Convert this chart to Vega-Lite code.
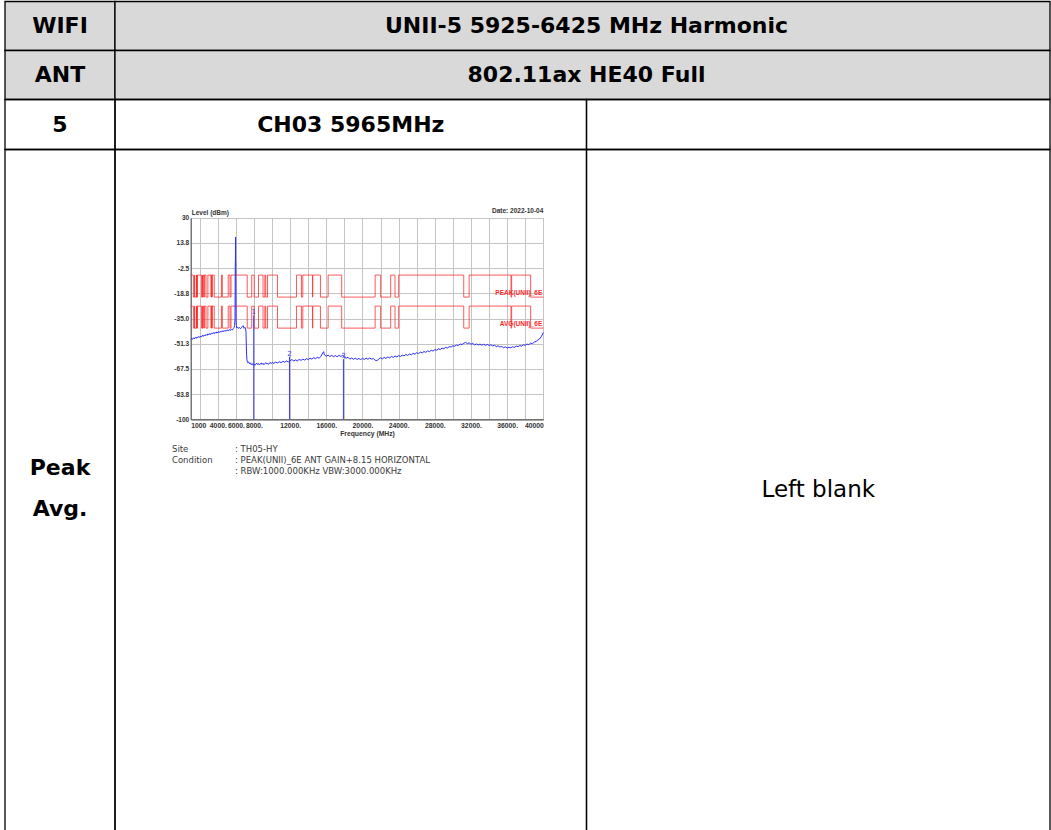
{
  "$schema": "https://vega.github.io/schema/vega-lite/v6.json",
  "width": 1051,
  "height": 830,
  "autosize": "none",
  "padding": 0,
  "background": "white",
  "config": {"view": {"stroke": null}},
  "datasets": {
    "cells": [
      {"c0": 0, "c1": 1, "r0": 0, "r1": 1, "kind": "header"},
      {"c0": 1, "c1": 3, "r0": 0, "r1": 1, "kind": "header"},
      {"c0": 0, "c1": 1, "r0": 1, "r1": 2, "kind": "header"},
      {"c0": 1, "c1": 3, "r0": 1, "r1": 2, "kind": "header"},
      {"c0": 0, "c1": 1, "r0": 2, "r1": 3, "kind": "body"},
      {"c0": 1, "c1": 2, "r0": 2, "r1": 3, "kind": "body"},
      {"c0": 2, "c1": 3, "r0": 2, "r1": 3, "kind": "body"},
      {"c0": 0, "c1": 1, "r0": 3, "r1": 4, "kind": "body"},
      {"c0": 1, "c1": 2, "r0": 3, "r1": 4, "kind": "body"},
      {"c0": 2, "c1": 3, "r0": 3, "r1": 4, "kind": "body"}
    ],
    "cellText": [
      {"col": 0.5, "row": 0.5, "text": "WIFI"},
      {"col": 2, "row": 0.5, "text": "UNII-5 5925-6425 MHz Harmonic"},
      {"col": 0.5, "row": 1.5, "text": "ANT"},
      {"col": 2, "row": 1.5, "text": "802.11ax HE40 Full"},
      {"col": 0.5, "row": 2.5, "text": "5"},
      {"col": 1.5, "row": 2.5, "text": "CH03 5965MHz"},
      {"col": 0.5, "row": 3.468, "text": "Peak"},
      {"col": 0.5, "row": 3.527, "text": "Avg."}
    ],
    "cellNote": [
      {"col": 2.5, "row": 3.5, "text": "Left blank"}
    ],
    "limits": [
      {"freq": 1000, "peak": -7, "avg": -27},
      {"freq": 1300, "peak": -21.2, "avg": -41.2},
      {"freq": 1427, "peak": -7, "avg": -27},
      {"freq": 1435, "peak": -21.2, "avg": -41.2},
      {"freq": 1626.5, "peak": -7, "avg": -27},
      {"freq": 1645.5, "peak": -21.2, "avg": -41.2},
      {"freq": 1646.5, "peak": -7, "avg": -27},
      {"freq": 1660, "peak": -21.2, "avg": -41.2},
      {"freq": 1710, "peak": -7, "avg": -27},
      {"freq": 1718.8, "peak": -21.2, "avg": -41.2},
      {"freq": 1722.2, "peak": -7, "avg": -27},
      {"freq": 2200, "peak": -21.2, "avg": -41.2},
      {"freq": 2300, "peak": -7, "avg": -27},
      {"freq": 2310, "peak": -21.2, "avg": -41.2},
      {"freq": 2390, "peak": -7, "avg": -27},
      {"freq": 2483.5, "peak": -21.2, "avg": -41.2},
      {"freq": 2500, "peak": -7, "avg": -27},
      {"freq": 2690, "peak": -21.2, "avg": -41.2},
      {"freq": 2900, "peak": -7, "avg": -27},
      {"freq": 3260, "peak": -21.2, "avg": -41.2},
      {"freq": 3267, "peak": -7, "avg": -27},
      {"freq": 3332, "peak": -21.2, "avg": -41.2},
      {"freq": 3339, "peak": -7, "avg": -27},
      {"freq": 3345.8, "peak": -21.2, "avg": -41.2},
      {"freq": 3358, "peak": -7, "avg": -27},
      {"freq": 3600, "peak": -21.2, "avg": -41.2},
      {"freq": 4400, "peak": -7, "avg": -27},
      {"freq": 4500, "peak": -21.2, "avg": -41.2},
      {"freq": 5150, "peak": -7, "avg": -27},
      {"freq": 5350, "peak": -21.2, "avg": -41.2},
      {"freq": 5460, "peak": -7, "avg": -27},
      {"freq": 7250, "peak": -21.2, "avg": -41.2},
      {"freq": 7750, "peak": -7, "avg": -27},
      {"freq": 8025, "peak": -21.2, "avg": -41.2},
      {"freq": 8500, "peak": -7, "avg": -27},
      {"freq": 9000, "peak": -21.2, "avg": -41.2},
      {"freq": 9200, "peak": -7, "avg": -27},
      {"freq": 9300, "peak": -21.2, "avg": -41.2},
      {"freq": 9500, "peak": -7, "avg": -27},
      {"freq": 10600, "peak": -21.2, "avg": -41.2},
      {"freq": 12700, "peak": -7, "avg": -27},
      {"freq": 13250, "peak": -21.2, "avg": -41.2},
      {"freq": 13400, "peak": -7, "avg": -27},
      {"freq": 14470, "peak": -21.2, "avg": -41.2},
      {"freq": 14500, "peak": -7, "avg": -27},
      {"freq": 15350, "peak": -21.2, "avg": -41.2},
      {"freq": 16200, "peak": -7, "avg": -27},
      {"freq": 17700, "peak": -21.2, "avg": -41.2},
      {"freq": 21400, "peak": -7, "avg": -27},
      {"freq": 22010, "peak": -21.2, "avg": -41.2},
      {"freq": 23120, "peak": -7, "avg": -27},
      {"freq": 23600, "peak": -21.2, "avg": -41.2},
      {"freq": 24000, "peak": -7, "avg": -27},
      {"freq": 31200, "peak": -21.2, "avg": -41.2},
      {"freq": 31800, "peak": -7, "avg": -27},
      {"freq": 36430, "peak": -21.2, "avg": -41.2},
      {"freq": 36500, "peak": -7, "avg": -27},
      {"freq": 38600, "peak": -21.2, "avg": -41.2},
      {"freq": 40000, "peak": -21.2, "avg": -41.2}
    ],
    "trace": [
      {"freq": 1000, "level": -48.6}, {"freq": 1100, "level": -47.9}, {"freq": 1200, "level": -48.4},
      {"freq": 1300, "level": -47.5}, {"freq": 1400, "level": -48.1}, {"freq": 1500, "level": -47.2},
      {"freq": 1600, "level": -47.8}, {"freq": 1700, "level": -46.9}, {"freq": 1800, "level": -47.4},
      {"freq": 1900, "level": -46.6}, {"freq": 2000, "level": -47.2}, {"freq": 2100, "level": -46.3},
      {"freq": 2200, "level": -46.9}, {"freq": 2300, "level": -45.8}, {"freq": 2400, "level": -46.5},
      {"freq": 2500, "level": -45.6}, {"freq": 2600, "level": -46.2}, {"freq": 2700, "level": -45.3},
      {"freq": 2800, "level": -45.9}, {"freq": 2900, "level": -44.9}, {"freq": 3000, "level": -45.6},
      {"freq": 3100, "level": -44.7}, {"freq": 3200, "level": -45.3}, {"freq": 3300, "level": -44.4},
      {"freq": 3400, "level": -45.0}, {"freq": 3500, "level": -44.1}, {"freq": 3600, "level": -44.8},
      {"freq": 3700, "level": -43.9}, {"freq": 3800, "level": -44.5}, {"freq": 3900, "level": -43.6},
      {"freq": 4000, "level": -44.3}, {"freq": 4100, "level": -43.4}, {"freq": 4200, "level": -44.0},
      {"freq": 4300, "level": -43.2}, {"freq": 4400, "level": -43.8}, {"freq": 4500, "level": -42.9},
      {"freq": 4600, "level": -43.5}, {"freq": 4700, "level": -42.7}, {"freq": 4800, "level": -43.3},
      {"freq": 4900, "level": -42.5}, {"freq": 5000, "level": -43.1}, {"freq": 5100, "level": -42.3},
      {"freq": 5200, "level": -42.9}, {"freq": 5300, "level": -42.1}, {"freq": 5400, "level": -42.7},
      {"freq": 5500, "level": -41.9}, {"freq": 5600, "level": -42.4}, {"freq": 5700, "level": -41.6},
      {"freq": 5800, "level": -40.8}, {"freq": 5850, "level": -39.5}, {"freq": 5900, "level": -36},
      {"freq": 5925, "level": -8}, {"freq": 5935, "level": 0.5}, {"freq": 5950, "level": 2},
      {"freq": 5965, "level": 17.5}, {"freq": 5975, "level": 3}, {"freq": 5990, "level": 1},
      {"freq": 6005, "level": -20}, {"freq": 6020, "level": -36}, {"freq": 6050, "level": -39.5},
      {"freq": 6100, "level": -41.2}, {"freq": 6200, "level": -40.6}, {"freq": 6300, "level": -41.4},
      {"freq": 6400, "level": -40.8}, {"freq": 6500, "level": -41.6}, {"freq": 6600, "level": -41.0},
      {"freq": 6700, "level": -40.2}, {"freq": 6800, "level": -39.6}, {"freq": 6900, "level": -41.3},
      {"freq": 7000, "level": -40.7}, {"freq": 7080, "level": -41.8}, {"freq": 7120, "level": -44},
      {"freq": 7150, "level": -52}, {"freq": 7180, "level": -58}, {"freq": 7220, "level": -61.5},
      {"freq": 7260, "level": -62.8}, {"freq": 7300, "level": -63.5}, {"freq": 7400, "level": -62.9},
      {"freq": 7500, "level": -64.2}, {"freq": 7600, "level": -63.6}, {"freq": 7700, "level": -64.8},
      {"freq": 7800, "level": -64.1}, {"freq": 7900, "level": -65.0}, {"freq": 8000, "level": -64.3},
      {"freq": 8100, "level": -65.2}, {"freq": 8200, "level": -64.5}, {"freq": 8300, "level": -63.8},
      {"freq": 8400, "level": -64.7}, {"freq": 8500, "level": -64.0}, {"freq": 8600, "level": -64.9},
      {"freq": 8700, "level": -64.2}, {"freq": 8800, "level": -63.7}, {"freq": 8900, "level": -64.6},
      {"freq": 9000, "level": -63.9}, {"freq": 9100, "level": -64.8}, {"freq": 9200, "level": -64.1},
      {"freq": 9300, "level": -63.5}, {"freq": 9400, "level": -64.4}, {"freq": 9500, "level": -63.8},
      {"freq": 9600, "level": -64.6}, {"freq": 9700, "level": -63.9}, {"freq": 9800, "level": -63.2},
      {"freq": 9900, "level": -64.1}, {"freq": 10000, "level": -63.4}, {"freq": 10200, "level": -63.9},
      {"freq": 10400, "level": -63.1}, {"freq": 10600, "level": -63.7}, {"freq": 10800, "level": -62.9},
      {"freq": 11000, "level": -63.5}, {"freq": 11200, "level": -62.6}, {"freq": 11400, "level": -63.2},
      {"freq": 11600, "level": -62.4}, {"freq": 11800, "level": -63.0}, {"freq": 12000, "level": -62.2},
      {"freq": 12200, "level": -61.5}, {"freq": 12400, "level": -62.4}, {"freq": 12600, "level": -61.7},
      {"freq": 12800, "level": -62.3}, {"freq": 13000, "level": -61.4}, {"freq": 13200, "level": -62.0},
      {"freq": 13400, "level": -61.2}, {"freq": 13600, "level": -61.8}, {"freq": 13800, "level": -60.9},
      {"freq": 14000, "level": -61.5}, {"freq": 14200, "level": -60.6}, {"freq": 14400, "level": -61.2},
      {"freq": 14600, "level": -60.3}, {"freq": 14800, "level": -60.9}, {"freq": 15000, "level": -60.0},
      {"freq": 15200, "level": -60.6}, {"freq": 15400, "level": -59.5}, {"freq": 15600, "level": -57.2},
      {"freq": 15700, "level": -56.4}, {"freq": 15800, "level": -58.5}, {"freq": 16000, "level": -59.3},
      {"freq": 16200, "level": -58.6}, {"freq": 16400, "level": -59.5}, {"freq": 16600, "level": -58.8},
      {"freq": 16800, "level": -59.6}, {"freq": 17000, "level": -58.9}, {"freq": 17200, "level": -59.7},
      {"freq": 17400, "level": -58.7}, {"freq": 17600, "level": -59.5}, {"freq": 17800, "level": -58.8},
      {"freq": 18000, "level": -59.9}, {"freq": 18200, "level": -60.6}, {"freq": 18400, "level": -60.0},
      {"freq": 18600, "level": -61.2}, {"freq": 18800, "level": -60.5}, {"freq": 19000, "level": -61.3},
      {"freq": 19200, "level": -60.6}, {"freq": 19400, "level": -61.4}, {"freq": 19600, "level": -60.8},
      {"freq": 19800, "level": -61.5}, {"freq": 20000, "level": -60.7}, {"freq": 20200, "level": -61.4},
      {"freq": 20400, "level": -60.6}, {"freq": 20600, "level": -61.3}, {"freq": 20800, "level": -60.5},
      {"freq": 21000, "level": -61.2}, {"freq": 21200, "level": -60.8}, {"freq": 21400, "level": -61.9},
      {"freq": 21600, "level": -62.3}, {"freq": 21800, "level": -61.1}, {"freq": 22000, "level": -60.4},
      {"freq": 22200, "level": -61.0}, {"freq": 22400, "level": -60.1}, {"freq": 22600, "level": -60.7},
      {"freq": 22800, "level": -59.8}, {"freq": 23000, "level": -60.4}, {"freq": 23200, "level": -59.5},
      {"freq": 23400, "level": -60.1}, {"freq": 23600, "level": -59.2}, {"freq": 23800, "level": -59.8},
      {"freq": 24000, "level": -58.9}, {"freq": 24200, "level": -59.5}, {"freq": 24400, "level": -58.6},
      {"freq": 24600, "level": -59.1}, {"freq": 24800, "level": -58.2}, {"freq": 25000, "level": -58.8},
      {"freq": 25200, "level": -57.9}, {"freq": 25400, "level": -58.4}, {"freq": 25600, "level": -57.5},
      {"freq": 25800, "level": -58.0}, {"freq": 26000, "level": -57.1}, {"freq": 26200, "level": -57.6},
      {"freq": 26400, "level": -56.7}, {"freq": 26600, "level": -57.2}, {"freq": 26800, "level": -56.3},
      {"freq": 27000, "level": -56.8}, {"freq": 27200, "level": -55.9}, {"freq": 27400, "level": -56.4},
      {"freq": 27600, "level": -55.5}, {"freq": 27800, "level": -56.0}, {"freq": 28000, "level": -55.1},
      {"freq": 28200, "level": -55.5}, {"freq": 28400, "level": -54.6}, {"freq": 28600, "level": -55.0},
      {"freq": 28800, "level": -54.1}, {"freq": 29000, "level": -54.5}, {"freq": 29200, "level": -53.6},
      {"freq": 29400, "level": -54.0}, {"freq": 29600, "level": -53.1}, {"freq": 29800, "level": -53.4},
      {"freq": 30000, "level": -52.6}, {"freq": 30200, "level": -52.9}, {"freq": 30400, "level": -52.1},
      {"freq": 30600, "level": -52.4}, {"freq": 30800, "level": -51.5}, {"freq": 31000, "level": -51.8},
      {"freq": 31200, "level": -51.0}, {"freq": 31400, "level": -50.4}, {"freq": 31600, "level": -51.2},
      {"freq": 31800, "level": -50.7}, {"freq": 32000, "level": -51.6}, {"freq": 32200, "level": -51.1},
      {"freq": 32400, "level": -52.0}, {"freq": 32600, "level": -51.4}, {"freq": 32800, "level": -52.1},
      {"freq": 33000, "level": -51.5}, {"freq": 33200, "level": -52.2}, {"freq": 33400, "level": -51.6},
      {"freq": 33600, "level": -52.3}, {"freq": 33800, "level": -51.7}, {"freq": 34000, "level": -52.4},
      {"freq": 34200, "level": -51.9}, {"freq": 34400, "level": -52.7}, {"freq": 34600, "level": -52.3},
      {"freq": 34800, "level": -53.1}, {"freq": 35000, "level": -52.6}, {"freq": 35200, "level": -53.4},
      {"freq": 35400, "level": -53.0}, {"freq": 35600, "level": -53.8}, {"freq": 35800, "level": -53.3},
      {"freq": 36000, "level": -54.0}, {"freq": 36200, "level": -53.5}, {"freq": 36400, "level": -53.9},
      {"freq": 36600, "level": -53.2}, {"freq": 36800, "level": -53.6}, {"freq": 37000, "level": -52.8},
      {"freq": 37200, "level": -53.2}, {"freq": 37400, "level": -52.4}, {"freq": 37600, "level": -52.8},
      {"freq": 37800, "level": -51.9}, {"freq": 38000, "level": -52.3}, {"freq": 38200, "level": -51.5},
      {"freq": 38400, "level": -51.8}, {"freq": 38600, "level": -50.9}, {"freq": 38800, "level": -51.2},
      {"freq": 39000, "level": -50.2}, {"freq": 39200, "level": -49.8}, {"freq": 39400, "level": -48.9},
      {"freq": 39600, "level": -48.1}, {"freq": 39800, "level": -46.5}, {"freq": 40000, "level": -44.0}
    ],
    "markers": [
      {"freq": 7970, "level": -33, "label": "1"},
      {"freq": 11930, "level": -59.6, "label": "2"},
      {"freq": 17895, "level": -61.2, "label": "3"}
    ]
  },
  "layer": [
    {
      "layer": [
        {
          "data": {"name": "cells"},
          "mark": {"type": "rect", "stroke": "#000000", "strokeWidth": 1.3},
          "encoding": {
            "x": {"field": "c0", "type": "quantitative", "scale": {"domain": [0, 1, 2, 3], "range": [5, 115, 586.5, 1050], "nice": false, "zero": false}, "axis": null},
            "x2": {"field": "c1"},
            "y": {"field": "r0", "type": "quantitative", "scale": {"domain": [0, 1, 2, 3, 4], "range": [1.5, 50.5, 99.5, 149.5, 831], "nice": false, "zero": false}, "axis": null},
            "y2": {"field": "r1"},
            "fill": {"field": "kind", "type": "nominal", "scale": {"domain": ["header", "body"], "range": ["#d9d9d9", "rgba(255,255,255,0)"]}, "legend": null}
          }
        },
        {
          "data": {"name": "cellText"},
          "mark": {"type": "text", "font": "DejaVu Sans", "fontWeight": "bold", "fontSize": 22, "baseline": "middle", "align": "center", "color": "#000000"},
          "encoding": {
            "x": {"field": "col", "type": "quantitative"},
            "y": {"field": "row", "type": "quantitative"},
            "text": {"field": "text"}
          }
        },
        {
          "data": {"name": "cellNote"},
          "mark": {"type": "text", "font": "DejaVu Sans", "fontSize": 23, "baseline": "middle", "align": "center", "color": "#000000"},
          "encoding": {
            "x": {"field": "col", "type": "quantitative"},
            "y": {"field": "row", "type": "quantitative"},
            "text": {"field": "text"}
          }
        }
      ]
    },
    {
      "resolve": {"axis": {"x": "independent"}},
      "layer": [
        {
          "data": {"name": "limits"},
          "transform": [{"fold": ["peak", "avg"], "as": ["limit", "level"]}],
          "mark": {"type": "line", "interpolate": "step-after", "color": "#ff3030", "strokeWidth": 1, "opacity": 0.8},
          "encoding": {
            "x": {
              "field": "freq", "type": "quantitative",
              "scale": {"domain": [1000, 40000], "range": [190.7, 543.3], "nice": false, "zero": false},
              "axis": {
                "orient": "bottom", "offset": -410.7,
                "values": [1000, 4000, 6000, 8000, 12000, 16000, 20000, 24000, 28000, 32000, 36000, 40000],
                "format": "d",
                "labelExpr": "datum.value==1000||datum.value==40000?format(datum.value,'d'):format(datum.value,'d')+'.'",
                "ticks": false, "labelPadding": 3, "labelFlush": true, "labelOverlap": false,
                "labelFont": "Liberation Sans", "labelFontWeight": "bold", "labelFontSize": 6.8, "labelColor": "#333333",
                "grid": false,
                "domainColor": "#555555", "domainWidth": 1.2,
                "title": "Frequency (MHz)", "titleFont": "Liberation Sans", "titleFontWeight": "bold", "titleFontSize": 6.8, "titleColor": "#333333", "titlePadding": 1
              }
            },
            "y": {
              "field": "level", "type": "quantitative",
              "scale": {"domain": [-100, 30], "range": [419.3, 217.7], "nice": false, "zero": false},
              "axis": {
                "orient": "left", "offset": -190.7,
                "values": [-100, -83.75, -67.5, -51.25, -35, -18.75, -2.5, 13.75, 30],
                "labelExpr": "datum.value==30?'30':datum.value==-100?'-100':(datum.value<0?'-':'')+format(abs(datum.value),'.1f')",
                "ticks": false, "labelPadding": 2, "labelOverlap": false,
                "labelFont": "Liberation Sans", "labelFontWeight": "bold", "labelFontSize": 6.5, "labelColor": "#333333",
                "grid": true, "gridColor": "#c4c4c4", "gridWidth": 1,
                "domainColor": "#555555", "domainWidth": 1.2,
                "title": null
              }
            },
            "detail": {"field": "limit"}
          }
        },
        {
          "data": {"name": "trace"},
          "mark": {"type": "line", "stroke": "#2b2bff", "strokeWidth": 1},
          "encoding": {
            "x": {
              "field": "freq", "type": "quantitative",
              "axis": {
                "orient": "top", "offset": -217.7,
                "values": [2000, 4000, 6000, 8000, 10000, 12000, 14000, 16000, 18000, 20000, 22000, 24000, 26000, 28000, 30000, 32000, 34000, 36000, 38000, 40000],
                "labels": false, "ticks": false, "domain": false, "title": null,
                "grid": true, "gridColor": "#c4c4c4", "gridWidth": 1
              }
            },
            "y": {"field": "level", "type": "quantitative"}
          }
        },
        {
          "data": {"name": "markers"},
          "mark": {"type": "rule", "stroke": "#3a3aff", "strokeWidth": 1},
          "encoding": {
            "x": {"field": "freq", "type": "quantitative", "axis": null},
            "y": {"field": "level", "type": "quantitative"},
            "y2": {"datum": -100}
          }
        },
        {
          "data": {"name": "markers"},
          "mark": {"type": "text", "fill": "#3a3aff", "font": "DejaVu Sans", "fontSize": 7, "baseline": "bottom", "align": "center"},
          "encoding": {
            "x": {"field": "freq", "type": "quantitative", "axis": null},
            "y": {"field": "level", "type": "quantitative"},
            "text": {"field": "label"}
          }
        },
        {
          "data": {"values": [{}]},
          "mark": {"type": "text", "text": "PEAK(UNII)_6E", "fill": "#ff2a2a", "font": "Liberation Sans", "fontWeight": "bold", "fontSize": 6.5, "align": "right", "baseline": "middle", "dx": -1},
          "encoding": {"x": {"datum": 40000, "type": "quantitative", "axis": null}, "y": {"datum": -18.4, "type": "quantitative"}}
        },
        {
          "data": {"values": [{}]},
          "mark": {"type": "text", "text": "AVG(UNII)_6E", "fill": "#ff2a2a", "font": "Liberation Sans", "fontWeight": "bold", "fontSize": 6.5, "align": "right", "baseline": "middle", "dx": -1},
          "encoding": {"x": {"datum": 40000, "type": "quantitative", "axis": null}, "y": {"datum": -38.4, "type": "quantitative"}}
        },
        {
          "data": {"values": [{}]},
          "mark": {"type": "text", "text": "Date: 2022-10-04", "fill": "#333333", "font": "Liberation Sans", "fontWeight": "bold", "fontSize": 6.5, "align": "right", "baseline": "middle"},
          "encoding": {"x": {"datum": 40000, "type": "quantitative", "axis": null}, "y": {"datum": 34.3, "type": "quantitative"}}
        },
        {
          "data": {"values": [{}]},
          "mark": {"type": "text", "text": "Level (dBm)", "fill": "#333333", "font": "Liberation Sans", "fontWeight": "bold", "fontSize": 6.5, "align": "left", "baseline": "middle", "dx": 1},
          "encoding": {"x": {"datum": 1000, "type": "quantitative", "axis": null}, "y": {"datum": 32.8, "type": "quantitative"}}
        },
        {
          "data": {"values": [{}]},
          "mark": {"type": "text", "text": ["Site", "Condition"], "fill": "#3a3a3a", "font": "DejaVu Sans", "fontSize": 8.5, "lineHeight": 11.2, "align": "left", "baseline": "top"},
          "encoding": {"x": {"datum": -1070, "type": "quantitative", "axis": null}, "y": {"datum": -116.3, "type": "quantitative"}}
        },
        {
          "data": {"values": [{}]},
          "mark": {"type": "text", "text": [": TH05-HY", ": PEAK(UNII)_6E ANT GAIN+8.15 HORIZONTAL", ": RBW:1000.000KHz VBW:3000.000KHz"], "fill": "#3a3a3a", "font": "DejaVu Sans", "fontSize": 8.5, "lineHeight": 11.2, "align": "left", "baseline": "top"},
          "encoding": {"x": {"datum": 5900, "type": "quantitative", "axis": null}, "y": {"datum": -116.3, "type": "quantitative"}}
        }
      ]
    }
  ],
  "resolve": {
    "scale": {"x": "independent", "y": "independent", "fill": "independent"},
    "axis": {"x": "independent", "y": "independent"}
  }
}
